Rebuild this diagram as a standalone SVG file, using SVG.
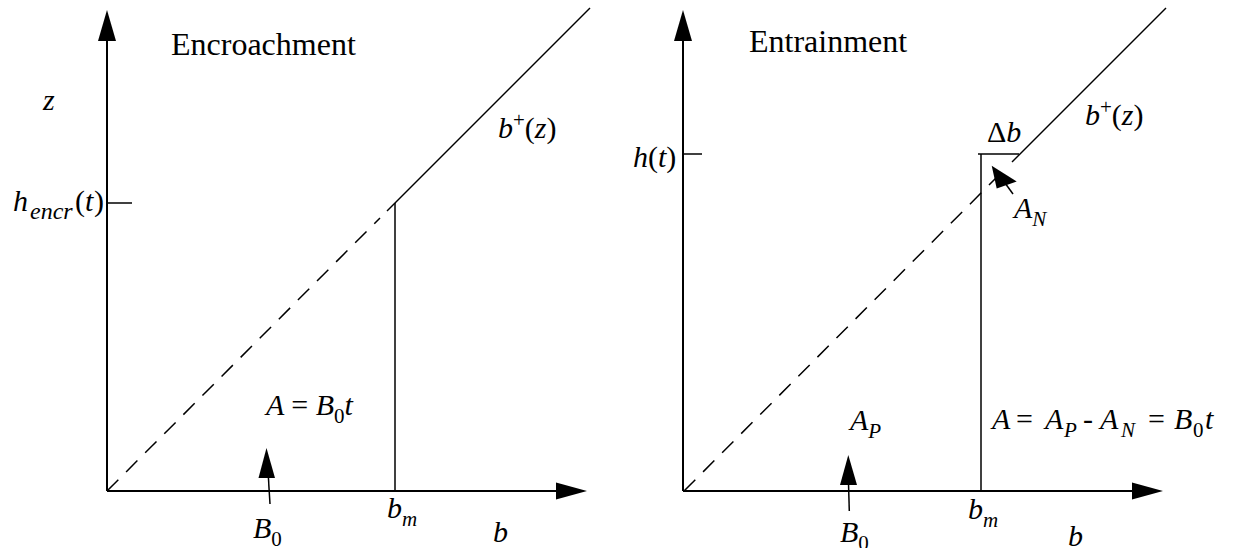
<svg xmlns="http://www.w3.org/2000/svg" width="1238" height="548" viewBox="0 0 1238 548">
<style>
.ax{stroke:#000;stroke-width:2;fill:none}
.ln{stroke:#000;stroke-width:1.5;fill:none}
.dash{stroke:#000;stroke-width:1.5;fill:none;stroke-dasharray:16 11}
.hd{fill:#000;stroke:none}
.t{font-size:32px}
.m{font-size:30px;font-style:italic}
.up{font-style:normal}
.sub{font-size:21px}
</style>
<rect width="1238" height="548" fill="#fff"/>
<g id="connectors">
  <line class="ax" x1="107" y1="491" x2="107" y2="40"/>
  <polygon class="hd" points="107,10 98,41 116,41"/>
  <line class="ax" x1="107" y1="491" x2="557" y2="491"/>
  <polygon class="hd" points="587,491 556,482.5 556,499.5"/>
  <line class="ln" x1="107" y1="203" x2="132" y2="203"/>
  <line class="dash" x1="107" y1="491" x2="380" y2="218"/>
  <line class="ln" x1="387" y1="211" x2="590" y2="8"/>
  <line class="ln" x1="395" y1="203" x2="395" y2="491"/>
  <line class="ln" x1="270" y1="504" x2="268.3" y2="476"/>
  <polygon class="hd" points="266.5,448 258.5,478 275,478"/>
  <line class="ax" x1="683" y1="491" x2="683" y2="40"/>
  <polygon class="hd" points="683,10 674,41 692,41"/>
  <line class="ax" x1="683" y1="491" x2="1133" y2="491"/>
  <polygon class="hd" points="1163,491 1132,482.5 1132,499.5"/>
  <line class="ln" x1="683" y1="154" x2="702" y2="154"/>
  <line class="dash" x1="684" y1="491" x2="1000" y2="174"/>
  <line class="ln" x1="1012" y1="162" x2="1166" y2="8"/>
  <line class="ln" x1="978" y1="154" x2="1019" y2="154"/>
  <line class="ln" x1="981" y1="154" x2="981" y2="491"/>
  <line class="ln" x1="1013" y1="194" x2="1005" y2="183"/>
  <polygon class="hd" points="991.7,165.7 996.7,188.5 1016.7,181.5"/>
  <line class="ln" x1="849.3" y1="511" x2="848.5" y2="483"/>
  <polygon class="hd" points="848.3,455 840,485 857,485"/>
</g>
<g id="left-labels" font-family="Liberation Serif, Times New Roman, serif" fill="#000">
  <text class="t" x="171" y="55">Encroachment</text>
  <text class="m" x="43" y="110">z</text>
  <text class="m" y="211"><tspan x="13">h</tspan><tspan font-size="24" x="30" dy="8">encr</tspan><tspan class="up" x="75" dy="-8">(</tspan><tspan x="85">t</tspan><tspan class="up" x="94">)</tspan></text>
  <text class="m" x="498" y="138">b<tspan class="sub up" dy="-11">+</tspan><tspan class="up" dy="11">(</tspan>z<tspan class="up">)</tspan></text>
  <text class="m" x="266" y="415">A <tspan class="up">=</tspan> B<tspan class="sub up" dy="8">0</tspan><tspan dy="-8">t</tspan></text>
  <text class="m" x="253" y="538">B<tspan class="sub up" dy="8">0</tspan></text>
  <text class="m" x="387" y="518">b<tspan class="sub" dy="8">m</tspan></text>
  <text class="m" x="493" y="542">b</text>
</g>
<g id="right-labels" font-family="Liberation Serif, Times New Roman, serif" fill="#000">
  <text class="t" x="749" y="52">Entrainment</text>
  <text class="m" x="633" y="167">h<tspan class="up">(</tspan>t<tspan class="up">)</tspan></text>
  <text class="m" x="987" y="142"><tspan class="up">Δ</tspan>b</text>
  <text class="m" x="1085" y="125">b<tspan class="sub up" dy="-11">+</tspan><tspan class="up" dy="11">(</tspan>z<tspan class="up">)</tspan></text>
  <text class="m" x="1014" y="218">A<tspan class="sub" dy="8">N</tspan></text>
  <text class="m" x="850" y="430">A<tspan class="sub" dy="8">P</tspan></text>
  <text class="m" y="429"><tspan x="992">A</tspan><tspan class="up" x="1016">=</tspan><tspan x="1045">A</tspan><tspan class="sub" x="1064" dy="8">P</tspan><tspan class="up" x="1083" dy="-8">-</tspan><tspan x="1100">A</tspan><tspan class="sub" x="1121" dy="8">N</tspan><tspan class="up" x="1148" dy="-8">=</tspan><tspan x="1174">B</tspan><tspan class="sub up" x="1193" dy="8">0</tspan><tspan x="1205" dy="-8">t</tspan></text>
  <text class="m" x="840" y="542">B<tspan class="sub up" dy="8">0</tspan></text>
  <text class="m" x="968" y="519">b<tspan class="sub" dy="8">m</tspan></text>
  <text class="m" x="1068" y="546">b</text>
</g>
</svg>
